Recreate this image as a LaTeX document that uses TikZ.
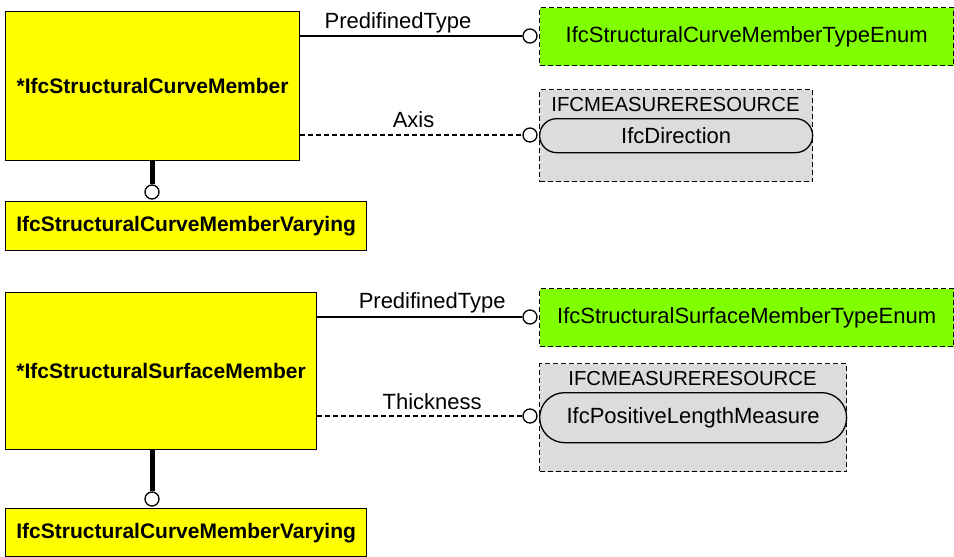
\documentclass[tikz,border=0pt]{standalone}
\usepackage{fontspec}
\setmainfont{Liberation Sans}
\definecolor{entyellow}{HTML}{FFFF00}
\definecolor{enumgreen}{HTML}{80FF00}
\definecolor{pkggray}{HTML}{DCDCDC}
\tikzset{
  ent/.style={draw,fill=entyellow,line width=1.3pt,inner sep=0pt,anchor=north west,
    font=\fontsize{21}{24}\selectfont\bfseries},
  enum/.style={draw,fill=enumgreen,line width=1.3pt,dash pattern=on 5pt off 3pt,inner sep=0pt,
    anchor=north west,font=\fontsize{22}{25}\selectfont},
  pkg/.style={draw,fill=pkggray,line width=1.3pt,dash pattern=on 5pt off 3pt,inner sep=0pt,
    anchor=north west},
  pkgname/.style={anchor=base,font=\fontsize{20.3}{23}\selectfont},
  pill/.style={draw,fill=pkggray,line width=1.3pt,inner sep=0pt,anchor=north west,
    font=\fontsize{22}{25}\selectfont},
  ring/.style={circle,draw,fill=white,line width=1.3pt,minimum size=14pt,inner sep=0pt},
  rel/.style={line width=1.3pt},
  optrel/.style={line width=1.3pt,dash pattern=on 5pt off 3pt},
  sub/.style={line width=5pt},
  lbl/.style={anchor=base,yshift=8pt,font=\fontsize{22}{25}\selectfont}
}
\begin{document}
\begin{tikzpicture}[x=1pt,y=-1pt]
\useasboundingbox (0,0) rectangle (954,557);
% upper group
\node[ent,minimum width=294pt,minimum height=149pt] (cm) at (5,11) {*IfcStructuralCurveMember};
\node[ent,minimum width=361pt,minimum height=49pt] (cmv) at (5,201) {IfcStructuralCurveMemberVarying};
\node[enum,minimum width=414pt,minimum height=58pt] (cmt) at (539,7) {IfcStructuralCurveMemberTypeEnum};
\node[pkg,minimum width=273pt,minimum height=92pt] (mr1) at (539,89) {};
\node[pkgname] (mr1n) at (675.5,111) {IFCMEASURERESOURCE};
\node[pill,minimum width=273pt,minimum height=34pt,rounded corners=17pt] (dir) at (539,118) {IfcDirection};
\node[ring] (r1) at (530,36) {};
\node[ring] (r2) at (530,135) {};
\node[ring] (r3) at (152,192) {};
\draw[rel] (cm.east |- r1) -- node[lbl,pos=.44]{PredifinedType} (r1);%PredefinedType
\draw[optrel] (cm.east |- r2) -- node[lbl,pos=.51]{Axis} (r2);%Axis
\draw[sub] (cm.south -| r3) -- (r3);%subtype
% lower group
\node[ent,minimum width=311pt,minimum height=157pt] (sm) at (5,292) {*IfcStructuralSurfaceMember};
\node[ent,minimum width=361pt,minimum height=48pt] (smv) at (5,508) {IfcStructuralCurveMemberVarying};
\node[enum,minimum width=414pt,minimum height=58pt] (smt) at (539,288) {IfcStructuralSurfaceMemberTypeEnum};
\node[pkg,minimum width=307pt,minimum height=108pt] (mr2) at (539,363) {};
\node[pkgname] (mr2n) at (692.5,385) {IFCMEASURERESOURCE};
\node[pill,minimum width=307pt,minimum height=50pt,rounded corners=25pt] (plm) at (539,392) {IfcPositiveLengthMeasure};
\node[ring] (r4) at (530,317) {};
\node[ring] (r5) at (530,416) {};
\node[ring] (r6) at (152,499) {};
\draw[rel] (sm.east |- r4) -- node[lbl,pos=.56,yshift=1pt]{PredifinedType} (r4);%PredefinedType
\draw[optrel] (sm.east |- r5) -- node[lbl,pos=.56,yshift=-1pt]{Thickness} (r5);%Thickness
\draw[sub] (sm.south -| r6) -- (r6);%subtype
\end{tikzpicture}
\end{document}
